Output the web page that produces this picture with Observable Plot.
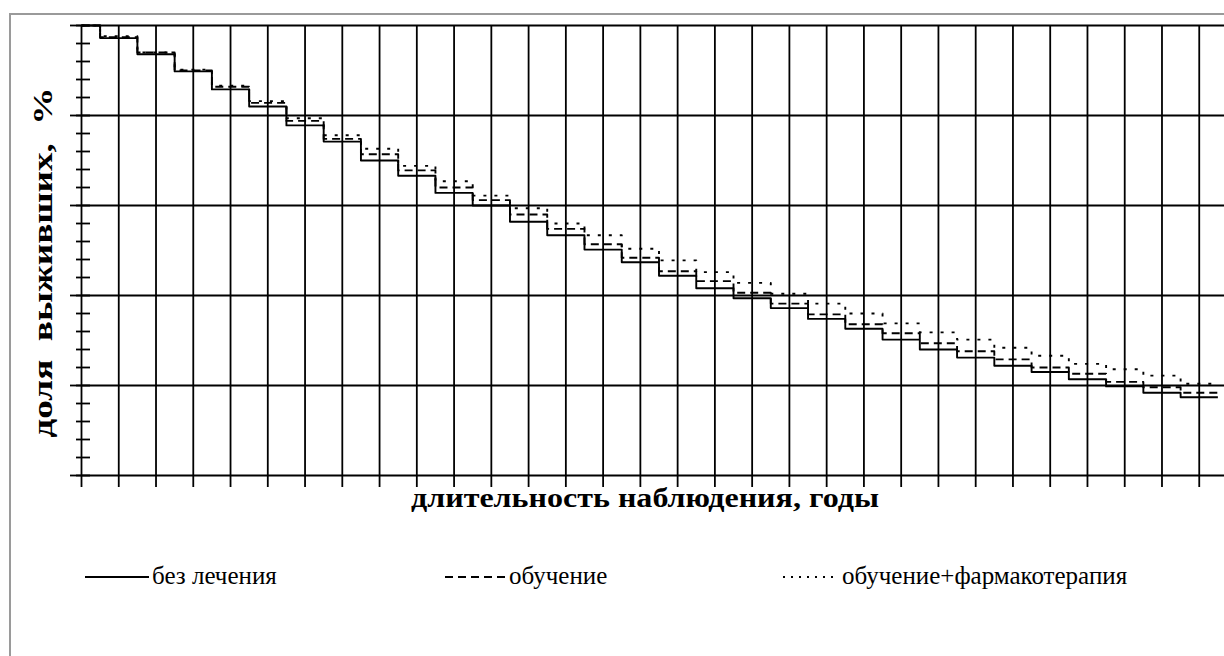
<!DOCTYPE html>
<html>
<head>
<meta charset="utf-8">
<script src="https://cdn.jsdelivr.net/npm/d3@7"></script>
<script src="https://cdn.jsdelivr.net/npm/@observablehq/plot@0.6"></script>
<style>
  html, body { margin: 0; padding: 0; background: #fff; overflow: hidden; width: 1224px; height: 656px; }
  #frame { position: absolute; left: 9px; top: 13px; width: 1400px; height: 800px; border: 2px solid #9a9a9a; box-sizing: border-box; }
  #chart { position: absolute; left: 0; top: 0; width: 1236px; }
  #chart svg { max-width: none !important; }
  .legend { position: absolute; top: 562px; font-family: 'Liberation Serif', 'Times New Roman', serif; font-size: 25px; color: #000; white-space: nowrap; line-height: 28px; }
  .legend svg { position: absolute; top: 13px; }
  .legend span { position: absolute; top: 0; }
</style>
</head>
<body>
<div id="frame"></div>
<div id="chart"></div>
<div id="legend"></div>
<script>
// step times (interval units of observation period)
const times = [0, 0.5, 1.5, 2.5, 3.5, 4.5, 5.5, 6.5, 7.5, 8.5, 9.5, 10.5, 11.5, 12.5, 13.5, 14.5,
  15.5, 16.5, 17.5, 18.5, 19.5, 20.5, 21.5, 22.5, 23.5, 24.5, 25.5, 26.5, 27.5, 28.5, 29.5, 30.5];

const seriesNames = ["без лечения", "обучение", "обучение+фармакотерапия"];

// survival share, %
const noTreatment = [100, 98.6, 96.8, 94.9, 92.9, 91.0, 88.9, 87.1, 85.0, 83.3, 81.4, 80.0, 78.2, 76.7,
  75.1, 73.7, 72.2, 70.8, 69.7, 68.6, 67.4, 66.3, 65.1, 64.0, 63.1, 62.2, 61.5, 60.7, 59.9, 59.2, 58.7];
const education = [100, 98.7, 97.0, 95.0, 93.2, 91.4, 89.4, 87.4, 85.7, 83.9, 82.0, 80.6, 79.0, 77.4,
  75.7, 74.2, 72.7, 71.6, 70.3, 69.1, 67.9, 66.8, 65.8, 64.7, 63.8, 62.9, 62.0, 61.3, 60.4, 59.8, 59.2];
const educationDrugs = [100, 98.8, 97.0, 95.1, 93.3, 91.6, 89.7, 87.8, 86.3, 84.4, 82.7, 81.1, 79.7, 78.0,
  76.7, 75.2, 73.9, 72.6, 71.4, 70.2, 69.1, 68.0, 66.9, 65.9, 65.1, 64.2, 63.3, 62.4, 61.8, 61.1, 60.2];

const yMajor = [50, 60, 70, 80, 90, 100];
const yMinor = d3.range(50, 100.001, 2);
const xTicks = d3.range(0, 32);

const axisTitleX = "длительность наблюдения, годы";
const axisTitleY = "доля  выживших,  %";

function rows(values, name) {
  return times.map((t, i) => ({t, v: values[Math.min(i, values.length - 1)], series: name}));
}
const dataSolid = rows(noTreatment, seriesNames[0]);
const dataDash = rows(education, seriesNames[1]);
const dataDot = rows(educationDrugs, seriesNames[2]);

const styles = [
  {data: dataSolid, dash: null},
  {data: dataDash, dash: "8,5"},
  {data: dataDot, dash: "3,8"}
];

const gridW = 1.8;

const chart = Plot.plot({
  width: 1236,
  height: 530,
  marginLeft: 81,
  marginRight: 0,
  marginTop: 25,
  marginBottom: 55,
  style: {fontFamily: "'Liberation Serif', 'Times New Roman', serif", background: "transparent", overflow: "visible", maxWidth: "none"},
  x: {domain: [0, 31]},
  y: {domain: [50, 100]},
  marks: [
    Plot.gridX(xTicks, {stroke: "black", strokeOpacity: 1, strokeWidth: gridW}),
    Plot.gridY(yMajor, {stroke: "black", strokeOpacity: 1, strokeWidth: gridW}),
    Plot.axisX(xTicks, {tickSize: 12, tickFormat: () => "", label: null, strokeWidth: gridW}),
    Plot.axisY(yMajor, {tickSize: 11, tickFormat: () => "", label: null, strokeWidth: gridW}),
    Plot.axisY(yMinor, {tickSize: 14, dx: 9, tickFormat: () => "", label: null, strokeWidth: gridW}),
    ...styles.map(s => Plot.line(s.data, {x: "t", y: "v", curve: "step-after", stroke: "black",
      strokeWidth: 1.9, strokeDasharray: s.dash, strokeLinecap: "butt"})),
    Plot.text([axisTitleX], {frameAnchor: "bottom", dy: 31, dx: -14, fontSize: 28, fontWeight: "bold", fill: "black", className: "xtitle"}),
    Plot.text([axisTitleY], {frameAnchor: "left", dx: -38, dy: 12, rotate: -90, textAnchor: "middle", fontSize: 28, fontWeight: "bold", fill: "black", className: "ytitle"})
  ]
});
document.getElementById("chart").appendChild(chart);

// fit the titles to the stretched lengths seen in the original
d3.select(chart).selectAll(".xtitle text").attr("textLength", 468).attr("lengthAdjust", "spacingAndGlyphs");
d3.select(chart).selectAll(".ytitle text").attr("textLength", 350).attr("lengthAdjust", "spacingAndGlyphs");

// legend
const legendItems = [
  {x: 85, w: 64, dash: null, name: seriesNames[0]},
  {x: 445, w: 61, dash: "8,5", name: seriesNames[1]},
  {x: 783, w: 56, dash: "2,6", name: seriesNames[2]}
];
const legend = d3.select("#legend");
legendItems.forEach(it => {
  const g = legend.append("div").attr("class", "legend").style("left", it.x + "px");
  const s = g.append("svg").attr("width", it.w).attr("height", 4).style("left", "0px");
  s.append("line").attr("x1", 0).attr("x2", it.w).attr("y1", 2).attr("y2", 2)
    .attr("stroke", "black").attr("stroke-width", 2).attr("stroke-dasharray", it.dash);
  g.append("span").style("left", (it.w + 3) + "px").text(it.name);
});
</script>
</body>
</html>
